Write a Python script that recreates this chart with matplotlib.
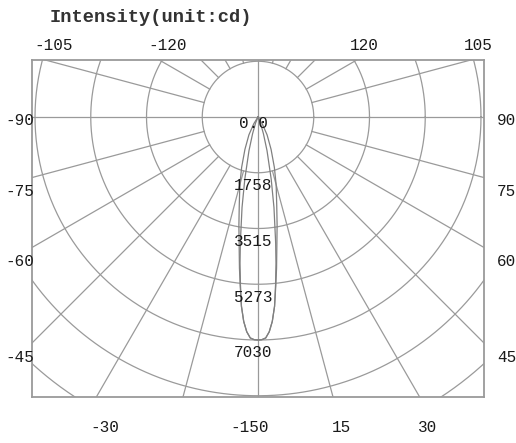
import numpy as np
import matplotlib.pyplot as plt

# radial scale of the diagram (cd)
ring_labels = ["0.0", "1758", "3515", "5273", "7030"]
ring_step = 1757.5
n_rings = 6

# intensity curves, angle from nadir (deg) -> cd
angles = [-38, -32, -27, -22, -18, -15, -12, -10, -8, -7, -6, -5, -4, -3, -2, -1, 0,
          1, 2, 3, 4, 5, 6, 7, 8, 10, 12, 15, 18, 22, 27, 32, 38]
curve_outer = [0, 250, 630, 1100, 1670, 2210, 2840, 3470, 4255, 4800, 5360, 5990, 6460, 6780, 6970, 7020, 7030,
               7020, 6970, 6780, 6460, 5990, 5360, 4800, 4255, 3470, 2840, 2210, 1670, 1100, 630, 250, 0]
curve_inner = [0, 0, 0, 200, 550, 1100, 2000, 2900, 4000, 4650, 5300, 5990, 6460, 6780, 6970, 7020, 7030,
               7020, 6970, 6780, 6460, 5990, 5300, 4650, 4000, 2900, 2000, 1100, 550, 200, 0, 0, 0]

side_angles = [90, 75, 60, 45]
left_labels = ["-90", "-75", "-60", "-45"]
right_labels = ["90", "75", "60", "45"]
top_angles = [-105, -120, 120, 105]
top_labels = ["-105", "-120", "120", "105"]
bottom_angles = [-30, 0, 15, 30]
bottom_labels = ["-30", "-150", "15", "30"]

GRID = "#9a9a9a"
FONT = "Liberation Mono"
FS = 11.5

XMAX = 7125
YTOP, YBOT = 1797, -8827

fig = plt.figure(figsize=(5.16, 4.43), dpi=100)
ax = fig.add_axes([32 / 516, 1 - 397 / 443, 452 / 516, 337 / 443])
ax.set_xlim(-XMAX, XMAX)
ax.set_ylim(YBOT, YTOP)
ax.set_xticks([])
ax.set_yticks([])
for s in ax.spines.values():
    s.set_color(GRID)
    s.set_linewidth(1.3)

# rings
t = np.linspace(0, 2 * np.pi, 720)
for k in range(1, n_rings + 1):
    r = k * ring_step
    ax.plot(r * np.cos(t), r * np.sin(t), color=GRID, lw=0.9)

# spokes every 15 deg, starting at first ring
ax.axhline(0, color=GRID, lw=0.9)
ax.axvline(0, color=GRID, lw=0.9)
for a in range(0, 360, 15):
    if a % 90 == 0:
        continue
    th = np.deg2rad(a)
    r = np.array([ring_step, 20000])
    ax.plot(r * np.sin(th), -r * np.cos(th), color=GRID, lw=0.9)

# intensity curves
th = np.deg2rad(angles)
for cur in (curve_outer, curve_inner):
    I = np.array(cur, dtype=float)
    ax.plot(I * np.sin(th), -I * np.cos(th), color="#808080", lw=0.9)

# ring value labels
for k, lab in enumerate(ring_labels):
    dy = -6 if k == 0 else -13
    ax.annotate(lab, (0, -k * ring_step), xytext=(-5, dy), textcoords="offset pixels",
                ha="center", va="center", fontsize=FS, family=FONT, color="#1a1a1a")

# side labels
for a, ll, rl in zip(side_angles, left_labels, right_labels):
    th_a = np.deg2rad(a)
    y = -XMAX * np.cos(th_a) / np.sin(th_a)
    dy = -3 if a == 90 else -14
    ax.annotate(ll, (-XMAX, y), xytext=(2, dy), textcoords="offset pixels",
                ha="right", va="center", fontsize=FS, family=FONT, color="#1a1a1a",
                annotation_clip=False)
    ax.annotate(rl, (XMAX, y), xytext=(13, dy), textcoords="offset pixels",
                ha="left", va="center", fontsize=FS, family=FONT, color="#1a1a1a",
                annotation_clip=False)

# top labels
for a, lab in zip(top_angles, top_labels):
    th_a = np.deg2rad(a)
    x = YTOP / (-np.cos(th_a)) * np.sin(th_a)
    ax.annotate(lab, (x, YTOP), xytext=(8, 14), textcoords="offset pixels",
                ha="center", va="center", fontsize=FS, family=FONT, color="#1a1a1a",
                annotation_clip=False)

# bottom labels
for a, lab in zip(bottom_angles, bottom_labels):
    th_a = np.deg2rad(a)
    x = -YBOT * np.tan(th_a)
    dx = -8 if a == 0 else 8
    ax.annotate(lab, (x, YBOT), xytext=(dx, -31), textcoords="offset pixels",
                ha="center", va="center", fontsize=FS, family=FONT, color="#1a1a1a",
                annotation_clip=False)

fig.text(50 / 516, 1 - 17 / 443, "Intensity(unit:cd)", ha="left", va="center",
         fontsize=13.5, family=FONT, fontweight="bold", color="#333333")

fig.savefig("out.png", dpi=100)
